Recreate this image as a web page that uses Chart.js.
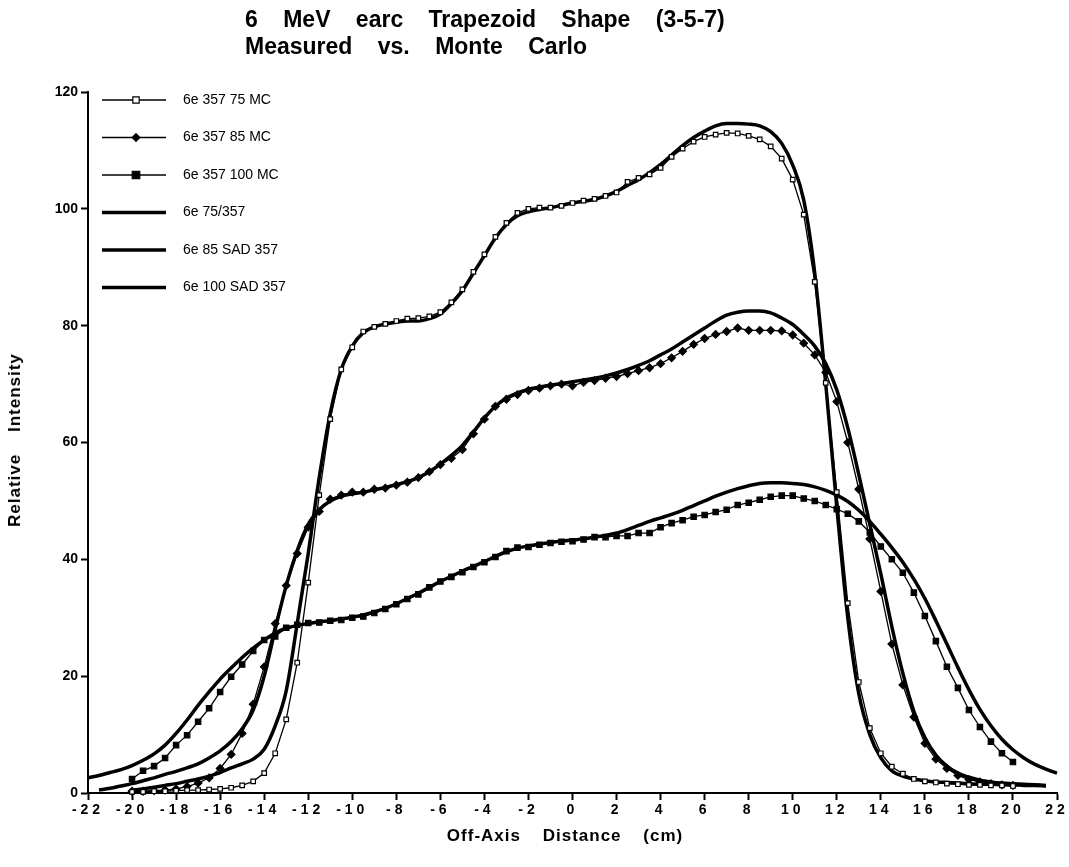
<!DOCTYPE html>
<html>
<head>
<meta charset="utf-8">
<script src="https://cdn.jsdelivr.net/npm/chart.js@4.4.1/dist/chart.umd.min.js"></script>
<style>
  body { margin: 0; background: #fff; overflow: hidden; }
  #wrap { position: relative; width: 1069px; height: 867px; }
  .txt { position: absolute; font-family: "Liberation Sans", Arial, Helvetica, sans-serif; font-weight: bold; color: #000; white-space: nowrap; }
  #title { left: 245px; top: 6px; font-size: 23px; line-height: 27px; word-spacing: 19px; }
  #xtitle { left: 565px; top: 836px; font-size: 17px; letter-spacing: 1px; word-spacing: 16px; transform: translate(-50%, -50%); }
  #ytitle { left: 15px; top: 440px; font-size: 17px; letter-spacing: 1px; word-spacing: 16px; transform: translate(-50%, -50%) rotate(-90deg); }
</style>
</head>
<body>
<div id="wrap">
  <canvas id="profileChart" width="1069" height="867"></canvas>
  <div id="title" class="txt">6 MeV earc Trapezoid Shape (3-5-7)<br>Measured vs. Monte Carlo</div>
  <div id="ytitle" class="txt">Relative Intensity</div>
  <div id="xtitle" class="txt">Off-Axis Distance (cm)</div>
</div>
<script>
// off-axis positions (cm), every 0.5 cm
const offAxis = [
  -22, -21.5, -21, -20.5, -20, -19.5, -19, -18.5,
  -18, -17.5, -17, -16.5, -16, -15.5, -15, -14.5,
  -14, -13.5, -13, -12.5, -12, -11.5, -11, -10.5,
  -10, -9.5, -9, -8.5, -8, -7.5, -7, -6.5,
  -6, -5.5, -5, -4.5, -4, -3.5, -3, -2.5,
  -2, -1.5, -1, -0.5, 0, 0.5, 1, 1.5,
  2, 2.5, 3, 3.5, 4, 4.5, 5, 5.5,
  6, 6.5, 7, 7.5, 8, 8.5, 9, 9.5,
  10, 10.5, 11, 11.5, 12, 12.5, 13, 13.5,
  14, 14.5, 15, 15.5, 16, 16.5, 17, 17.5,
  18, 18.5, 19, 19.5, 20, 20.5, 21, 21.5,
  22
];

// Monte Carlo, 75 cm
const mc75 = [
  null, null, null, null, 0.2, 0.2, 0.3, 0.3,
  0.4, 0.5, 0.5, 0.6, 0.7, 0.9, 1.3, 2.0,
  3.4, 6.8, 12.6, 22.3, 36, 51, 64, 72.5,
  76.3, 79, 79.8, 80.3, 80.8, 81.2, 81.3, 81.6,
  82.3, 84, 86.2, 89.2, 92.2, 95.2, 97.6, 99.3,
  100, 100.2, 100.2, 100.5, 101, 101.4, 101.7, 102.2,
  102.8, 104.6, 105.3, 105.9, 107, 108.9, 110.3, 111.5,
  112.3, 112.7, 113, 112.9, 112.5, 111.9, 110.7, 108.6,
  105, 99, 87.5, 70.2, 51.5, 32.5, 19, 11.1,
  6.8, 4.5, 3.3, 2.4, 2.0, 1.8, 1.6, 1.5,
  1.4, 1.4, 1.3, 1.3, 1.2, null, null, null,
  null
];

// Monte Carlo, 85 cm
const mc85 = [
  null, null, null, null, 0.3, 0.3, 0.4, 0.5,
  0.7, 1.1, 1.7, 2.6, 4.2, 6.6, 10.2, 15.2,
  21.6, 29, 35.5, 41, 45.5, 48.2, 50.3, 51,
  51.5, 51.5, 52, 52.2, 52.7, 53.2, 54, 55,
  56.2, 57.3, 58.8, 61.5, 64, 66.2, 67.4, 68.2,
  68.9, 69.3, 69.7, 70, 69.7, 70.3, 70.6, 71,
  71.3, 71.8, 72.3, 72.8, 73.5, 74.5, 75.6, 76.8,
  77.8, 78.5, 79, 79.6, 79.2, 79.2, 79.2, 79.1,
  78.4, 77, 75, 72, 67, 60, 52, 43.5,
  34.5, 25.5, 18.5, 13, 8.5, 5.8, 4.2, 3.0,
  2.3, 1.9, 1.6, 1.4, 1.3, null, null, null,
  null
];

// Monte Carlo, 100 cm
const mc100 = [
  null, null, null, null, 2.4, 3.8, 4.6, 6,
  8.2, 9.9, 12.2, 14.5, 17.3, 19.9, 22, 24.3,
  26.2, 26.8, 28.3, 28.8, 29.1, 29.2, 29.5, 29.6,
  30, 30.2, 30.8, 31.5, 32.3, 33.2, 34, 35.2,
  36.2, 37, 37.8, 38.7, 39.5, 40.4, 41.4, 42,
  42.1, 42.5, 42.8, 43, 43.1, 43.4, 43.8, 43.8,
  44, 44, 44.5, 44.5, 45.5, 46.2, 46.7, 47.3,
  47.6, 48.1, 48.5, 49.3, 49.7, 50.2, 50.7, 50.9,
  50.9, 50.4, 50, 49.3, 48.6, 47.8, 46.5, 44.6,
  42.2, 40, 37.7, 34.3, 30.3, 26, 21.6, 18,
  14.2, 11.3, 8.8, 6.8, 5.3, null, null, null,
  null
];

// measured, 75 cm
const meas75 = [
  null, null, null, null, 0.5, 0.7, 1.0, 1.3,
  1.6, 2.0, 2.4, 2.9, 3.5, 4.3, 5.0, 5.8,
  7.5, 11.5, 17.5, 29, 41, 54, 65, 72.5,
  76.5, 78.8, 79.8, 80.3, 80.6, 80.8, 80.8, 81.2,
  82, 83.8, 86, 89, 92, 95, 97.3, 98.8,
  99.5, 99.9, 100.2, 100.6, 101, 101.3, 101.6, 102.2,
  103, 104, 105, 106.2, 107.6, 109.2, 110.8, 112.2,
  113.3, 114.2, 114.6, 114.6, 114.5, 114.2, 113.2, 111.2,
  107.5, 101.5, 89, 70, 49, 30, 17, 10,
  6, 3.8, 2.9, 2.4, 2.1, 1.9, 1.8, 1.7,
  1.6, 1.5, 1.5, 1.4, 1.4, 1.3, 1.3, 1.2,
  null
];

// measured, 85 cm SAD
const meas85 = [
  null, 0.5, 0.8, 1.2, 1.6, 2.1, 2.6, 3.2,
  3.7, 4.3, 5.0, 6.0, 7.2, 8.8, 11, 14.2,
  20, 28, 35.5, 41.5, 46, 48.5, 50, 50.8,
  51.2, 51.5, 51.9, 52.3, 52.8, 53.3, 54, 55,
  56.3, 57.8, 59.5, 61.8, 64.2, 66.2, 67.6, 68.5,
  69.1, 69.5, 69.8, 70.1, 70.4, 70.7, 71, 71.4,
  71.9, 72.5, 73.2, 74, 75, 76, 77.2, 78.4,
  79.6, 80.8, 81.8, 82.3, 82.5, 82.5, 82.2, 81.3,
  80.2, 78.5, 76.5, 73.5, 69, 62.5, 54.5, 46,
  37.5, 28.5, 20.5, 14, 9.5, 6.5, 4.6, 3.4,
  2.7, 2.2, 1.9, 1.7, 1.6, 1.5, 1.4, 1.3,
  null
];

// measured, 100 cm SAD
const meas100 = [
  2.6, 3.0, 3.5, 4.0, 4.7, 5.6, 6.7, 8.2,
  10.2, 12.5, 15, 17.3, 19.5, 21.4, 23.2, 24.8,
  26.2, 27.4, 28.2, 28.7, 29, 29.3, 29.5, 29.8,
  30.1, 30.5, 31, 31.6, 32.4, 33.3, 34.2, 35.2,
  36.2, 37.1, 38, 38.8, 39.6, 40.5, 41.3, 41.9,
  42.3, 42.6, 42.9, 43.1, 43.3, 43.5, 43.8, 44.1,
  44.5, 45.1, 45.8, 46.5, 47.1, 47.7, 48.4, 49.2,
  50, 50.8, 51.5, 52.1, 52.6, 53, 53.1, 53.1,
  53, 52.8, 52.4, 51.8, 51, 49.9, 48.4, 46.5,
  44.3, 42, 39.5, 36.6, 33.3, 29.5, 25.5, 21.5,
  17.7, 14.3, 11.5, 9.2, 7.4, 6, 4.9, 4.1,
  3.4
];

const seriesLabels = ['6e 357 75 MC', '6e 357 85 MC', '6e 357 100 MC', '6e 75/357', '6e 85 SAD 357', '6e 100 SAD 357'];
const xTicks = [-22, -20, -18, -16, -14, -12, -10, -8, -6, -4, -2, 0, 2, 4, 6, 8, 10, 12, 14, 16, 18, 20, 22];
const yTicks = [0, 20, 40, 60, 80, 100, 120];

const FONT = '"Liberation Sans", Arial, Helvetica, sans-serif';

const toPoints = (ys) => offAxis.map((x, i) => ({ x: x, y: ys[i] }));

const mcSet = (label, ys, style, fill, radius) => ({
    label: label,
    data: toPoints(ys),
    borderColor: '#000',
    borderWidth: 1.3,
    pointStyle: style,
    pointRadius: radius,
    pointBackgroundColor: fill,
    pointBorderColor: '#000',
    pointBorderWidth: 1.2,
    tension: 0,
    clip: false,
});

const measSet = (label, ys) => ({
    label: label,
    data: toPoints(ys),
    borderColor: '#000',
    borderWidth: 3.5,
    pointRadius: 0,
    cubicInterpolationMode: 'monotone',
    clip: false,
});

function drawMarker(ctx, style, x, y, r, fill) {
    ctx.beginPath();
    if (style === 'rectRot') {
        ctx.moveTo(x, y - r); ctx.lineTo(x + r, y); ctx.lineTo(x, y + r); ctx.lineTo(x - r, y);
        ctx.closePath();
    } else {
        const s = r * Math.SQRT1_2 * 1.4;
        ctx.rect(x - s, y - s, 2 * s, 2 * s);
    }
    ctx.fillStyle = fill;
    ctx.fill();
    ctx.lineWidth = 1.2;
    ctx.strokeStyle = '#000';
    ctx.stroke();
}

// legend drawn in the top-left corner of the plot, one row per dataset
const legendBox = {
    id: 'legendBox',
    afterDatasetsDraw(chart) {
        const ctx = chart.ctx;
        chart.data.datasets.forEach((ds, i) => {
            const y = 100 + i * 37.5;
            ctx.save();
            ctx.strokeStyle = '#000';
            ctx.lineWidth = ds.borderWidth;
            ctx.beginPath();
            ctx.moveTo(102, y);
            ctx.lineTo(166, y);
            ctx.stroke();
            if (ds.pointRadius > 0) {
                drawMarker(ctx, ds.pointStyle, 136, y, ds.pointRadius, ds.pointBackgroundColor);
            }
            ctx.font = '14px ' + FONT;
            ctx.fillStyle = '#000';
            ctx.textBaseline = 'middle';
            ctx.fillText(ds.label, 183, y);
            ctx.restore();
        });
    }
};

// x tick labels are letter-spaced in the original
const spacedTicks = {
    id: 'spacedTicks',
    beforeDraw(chart) {
        const sc = chart.scales.x;
        if (sc._spaced) return;
        const orig = sc.drawLabels.bind(sc);
        sc.drawLabels = (area) => {
            chart.ctx.save();
            chart.ctx.letterSpacing = '4px';
            orig(area);
            chart.ctx.restore();
        };
        sc._spaced = true;
    }
};

const ctx = document.getElementById('profileChart').getContext('2d');
new Chart(ctx, {
    type: 'line',
    data: {
        datasets: [
            mcSet(seriesLabels[0], mc75, 'rect', '#fff', 3.2),
            mcSet(seriesLabels[1], mc85, 'rectRot', '#000', 3.8),
            mcSet(seriesLabels[2], mc100, 'rect', '#000', 3.8),
            measSet(seriesLabels[3], meas75),
            measSet(seriesLabels[4], meas85),
            measSet(seriesLabels[5], meas100),
        ]
    },
    options: {
        responsive: false,
        animation: false,
        layout: { padding: { top: 92, right: 12, bottom: 0, left: 0 } },
        plugins: {
            legend: { display: false },
            tooltip: { enabled: false },
            title: { display: false },
        },
        scales: {
            x: {
                type: 'linear',
                min: -22,
                max: 22,
                afterFit: (s) => { s.height = 74; },
                afterBuildTicks: (s) => { s.ticks = xTicks.map(v => ({ value: v })); },
                ticks: {
                    color: '#000',
                    font: { family: FONT, size: 14, weight: 'bold' },
                    padding: 2,
                    maxRotation: 0,
                    autoSkip: false,
                },
                grid: { drawOnChartArea: false, tickLength: 7, tickWidth: 2, tickColor: '#000' },
                border: { display: true, color: '#000', width: 2 },
            },
            y: {
                min: 0,
                max: 120,
                afterFit: (s) => { s.width = 88; },
                afterBuildTicks: (s) => { s.ticks = yTicks.map(v => ({ value: v })); },
                ticks: {
                    color: '#000',
                    font: { family: FONT, size: 14, weight: 'bold' },
                    padding: 3,
                },
                grid: { drawOnChartArea: false, tickLength: 7, tickWidth: 2, tickColor: '#000' },
                border: { display: true, color: '#000', width: 2 },
            }
        }
    },
    plugins: [legendBox, spacedTicks]
});
</script>
</body>
</html>
